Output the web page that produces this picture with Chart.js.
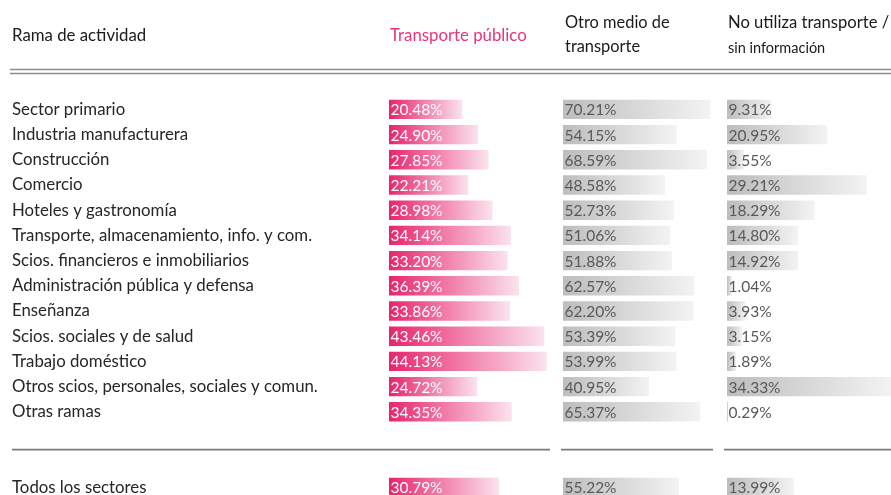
<!DOCTYPE html>
<html lang="es">
<head>
<meta charset="UTF-8">
<title>Medio de transporte por rama de actividad</title>
<script src="https://cdn.jsdelivr.net/npm/chart.js"></script>
<style>
    html, body {
        margin: 0;
        padding: 0;
        background: #ffffff;
        overflow: hidden;
    }
    #wrap {
        width: 891px;
        height: 500px;
    }
</style>
</head>
<body>
<div id="wrap"><canvas id="tabla" width="891" height="500"></canvas></div>
<script>
// filas de la tabla (dos filas vacías antes del total)
const ramas = [
    "Sector primario",
    "Industria manufacturera",
    "Construcción",
    "Comercio",
    "Hoteles y gastronomía",
    "Transporte, almacenamiento, info. y com.",
    "Scios. financieros e inmobiliarios",
    "Administración pública y defensa",
    "Enseñanza",
    "Scios. sociales y de salud",
    "Trabajo doméstico",
    "Otros scios, personales, sociales y comun.",
    "Otras ramas",
    "",
    "",
    "Todos los sectores"
];

const transportePublico = [20.48, 24.90, 27.85, 22.21, 28.98, 34.14, 33.20, 36.39, 33.86, 43.46, 44.13, 24.72, 34.35];
const otroMedio = [70.21, 54.15, 68.59, 48.58, 52.73, 51.06, 51.88, 62.57, 62.20, 53.39, 53.99, 40.95, 65.37];
const noUtiliza = [9.31, 20.95, 3.55, 29.21, 18.29, 14.80, 14.92, 1.04, 3.93, 3.15, 1.89, 34.33, 0.29];
const totales = [30.79, 55.22, 13.99];

const FONT = "Lato, 'Open Sans', sans-serif";

function conTotal(serie, total) {
    return [...serie, null, null, total];
}

// degradado tipo "barra de datos" de Excel
function degradado(colorIni, colorFin) {
    return (c) => {
        const chart = c.chart;
        if (!chart.chartArea || c.raw == null) return colorIni;
        const xs = chart.scales[c.dataset.xAxisID];
        const x0 = xs.getPixelForValue(0);
        const x1 = xs.getPixelForValue(c.raw);
        if (x1 - x0 < 1) return colorIni;
        const g = chart.ctx.createLinearGradient(x0, 0, x1, 0);
        g.addColorStop(0, colorIni);
        g.addColorStop(1, colorFin);
        return g;
    };
}

const encabezados = {
    id: 'encabezados',
    beforeDraw(chart) {
        const ctx = chart.ctx;
        const s = chart.scales;
        ctx.save();
        ctx.textBaseline = 'middle';
        ctx.font = "16.8px " + FONT;
        ctx.fillStyle = '#1a1a1a';
        ctx.fillText('Rama de actividad', 12, 36);
        ctx.fillStyle = '#e5357a';
        ctx.fillText('Transporte público', s.xTP.left + 1, 36);
        ctx.fillStyle = '#1a1a1a';
        ctx.font = "16.4px " + FONT;
        ctx.fillText('Otro medio de', s.xOM.left + 2, 23);
        ctx.fillText('transporte', s.xOM.left + 2, 47);
        ctx.font = "16.6px " + FONT;
        ctx.fillText('No utiliza transporte /', s.xNU.left + 1, 23);
        ctx.font = "14.5px " + FONT;
        ctx.fillText('sin información', s.xNU.left + 1, 48);

        // doble línea bajo los encabezados
        ctx.strokeStyle = '#8c8c8c';
        ctx.lineWidth = 1.3;
        ctx.beginPath();
        ctx.moveTo(10, 69.5); ctx.lineTo(chart.width, 69.5);
        ctx.moveTo(10, 73.5); ctx.lineTo(chart.width, 73.5);
        ctx.stroke();

        // línea antes del total
        const yl = (s.y.getPixelForValue(13) + s.y.getPixelForValue(14)) / 2;
        ctx.strokeStyle = '#7a7a7a';
        ctx.lineWidth = 1.6;
        ctx.beginPath();
        ctx.moveTo(12, yl); ctx.lineTo(s.xOM.left - 13, yl);
        ctx.moveTo(s.xOM.left - 2, yl); ctx.lineTo(s.xNU.left - 14, yl);
        ctx.moveTo(s.xNU.left - 3, yl); ctx.lineTo(chart.width, yl);
        ctx.stroke();
        ctx.restore();
    }
};

const etiquetas = {
    id: 'etiquetas',
    afterDatasetsDraw(chart) {
        const ctx = chart.ctx;
        ctx.save();
        ctx.font = "15.5px " + FONT;
        ctx.textBaseline = 'middle';
        chart.data.datasets.forEach((ds, i) => {
            const meta = chart.getDatasetMeta(i);
            meta.data.forEach((bar, j) => {
                const v = ds.data[j];
                if (v == null) return;
                ctx.fillStyle = ds.colorTexto;
                ctx.fillText(v.toFixed(2) + '%', bar.base + 1.5, bar.y + 1);
            });
        });
        ctx.restore();
    }
};

const ctx = document.getElementById('tabla').getContext('2d');

new Chart(ctx, {
    type: 'bar',
    data: {
        labels: ramas,
        datasets: [
            {
                label: 'Transporte público',
                data: conTotal(transportePublico, totales[0]),
                xAxisID: 'xTP',
                backgroundColor: degradado('#e8246c', '#fbe3ee'),
                colorTexto: '#ffffff'
            },
            {
                label: 'Otro medio de transporte',
                data: conTotal(otroMedio, totales[1]),
                xAxisID: 'xOM',
                backgroundColor: degradado('#bdbdbd', '#f3f3f3'),
                colorTexto: '#595959'
            },
            {
                label: 'No utiliza transporte / sin información',
                data: conTotal(noUtiliza, totales[2]),
                xAxisID: 'xNU',
                backgroundColor: degradado('#bdbdbd', '#f3f3f3'),
                colorTexto: '#595959'
            }
        ]
    },
    options: {
        indexAxis: 'y',
        responsive: false,
        animation: false,
        layout: {
            padding: { top: 96.8, left: 12, right: 0, bottom: 0 }
        },
        datasets: {
            bar: {
                grouped: false,
                barPercentage: 0.77,
                categoryPercentage: 1,
                borderWidth: 0
            }
        },
        plugins: {
            legend: { display: false },
            tooltip: { enabled: false }
        },
        scales: {
            y: {
                type: 'category',
                position: 'left',
                offset: true,
                grid: { display: false },
                border: { display: false },
                ticks: {
                    crossAlign: 'far',
                    autoSkip: false,
                    padding: 0,
                    color: '#262626',
                    font: { family: FONT, size: 16.8 }
                },
                afterFit: (scale) => {
                    scale.width = 377;
                    scale.paddingTop = 0;
                    scale.paddingBottom = 0;
                }
            },
            xTP: {
                type: 'linear', position: 'bottom', stack: 'columnas', stackWeight: 174,
                min: 0, max: 48.7, display: false
            },
            xOM: {
                type: 'linear', position: 'bottom', stack: 'columnas', stackWeight: 164,
                min: 0, max: 78.1, display: false
            },
            xNU: {
                type: 'linear', position: 'bottom', stack: 'columnas', stackWeight: 164,
                min: 0, max: 34.24, display: false
            }
        }
    },
    plugins: [encabezados, etiquetas]
});
</script>
</body>
</html>
